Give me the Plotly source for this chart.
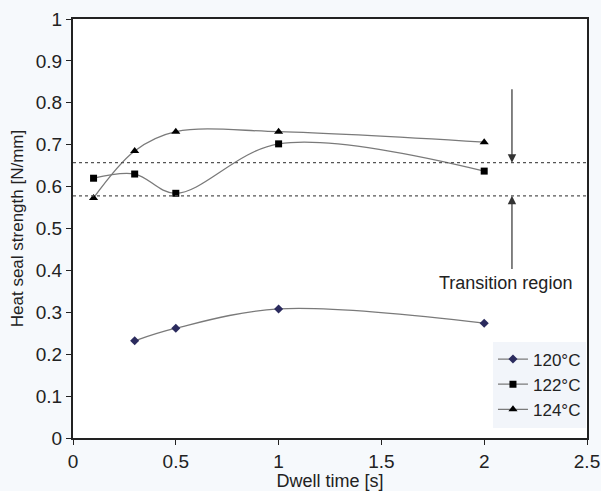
import plotly.graph_objects as go

dwell_120 = [0.3, 0.5, 1.0, 2.0]
hs_120 = [0.232, 0.262, 0.308, 0.274]
dwell_122 = [0.1, 0.3, 0.5, 1.0, 2.0]
hs_122 = [0.620, 0.630, 0.584, 0.702, 0.637]
dwell_124 = [0.1, 0.3, 0.5, 1.0, 2.0]
hs_124 = [0.573, 0.685, 0.731, 0.731, 0.706]
series_names = ["120°C", "122°C", "124°C"]
transition_bounds = [0.578, 0.657]
arrow_x = 2.135

font = "Liberation Sans"
fig = go.Figure()
specs = [
    (dwell_120, hs_120, "diamond", "#2b2b5e", 7),
    (dwell_122, hs_122, "square", "black", 7),
    (dwell_124, hs_124, "triangle-up", "black", 8),
]
for (xs, ys, sym, col, sz), name in zip(specs, series_names):
    fig.add_trace(go.Scatter(
        x=xs, y=ys, name=name, mode="lines+markers",
        line=dict(color="#7a7a7a", width=1.3, shape="spline", smoothing=1.0),
        marker=dict(symbol=sym, color=col, size=sz),
    ))

for yb in transition_bounds:
    fig.add_shape(type="line", xref="paper", x0=0, x1=1, yref="y", y0=yb, y1=yb,
                  line=dict(color="#555", width=1.2, dash="dot"))

fig.add_annotation(x=arrow_x, y=transition_bounds[1], ax=arrow_x, ay=0.836,
                   xref="x", yref="y", axref="x", ayref="y", text="",
                   showarrow=True, arrowhead=2, arrowsize=1.4, arrowwidth=1.2,
                   arrowcolor="#333")
fig.add_annotation(x=arrow_x, y=transition_bounds[0], ax=arrow_x, ay=0.40,
                   xref="x", yref="y", axref="x", ayref="y", text="",
                   showarrow=True, arrowhead=2, arrowsize=1.4, arrowwidth=1.2,
                   arrowcolor="#333")
fig.add_annotation(x=2.104, y=0.37, xref="x", yref="y", text="Transition region",
                   showarrow=False, font=dict(family=font, size=18, color="#222"))

axis_common = dict(showline=True, linecolor="#222", linewidth=2, mirror=True,
                   ticks="outside", ticklen=5, tickcolor="#222", showgrid=False,
                   zeroline=False, automargin=False,
                   tickfont=dict(family=font, size=19, color="#222"))
fig.update_xaxes(range=[0, 2.5], dtick=0.5, title=dict(text="Dwell time [s]",
                 font=dict(family=font, size=18, color="#222"), standoff=6), **axis_common)
fig.update_yaxes(range=[0, 1], dtick=0.1, tickformat="~g",
                 title=dict(text="Heat seal strength [N/mm]",
                 font=dict(family=font, size=17, color="#222"), standoff=8), **axis_common)

fig.update_layout(
    width=601, height=491,
    margin=dict(l=73, r=14, t=19, b=53, autoexpand=False),
    paper_bgcolor="#f6f9fc", plot_bgcolor="white",
    showlegend=True,
    legend=dict(x=0.998, y=0.025, xanchor="right", yanchor="bottom",
                bgcolor="#f2f5fa", font=dict(family=font, size=17, color="#222"),
                itemwidth=30, tracegroupgap=0, borderwidth=0),
)
fig.write_html("out.html", config={"displayModeBar": False},
               post_script="document.body.style.margin='0px';document.body.style.overflow='hidden';")
